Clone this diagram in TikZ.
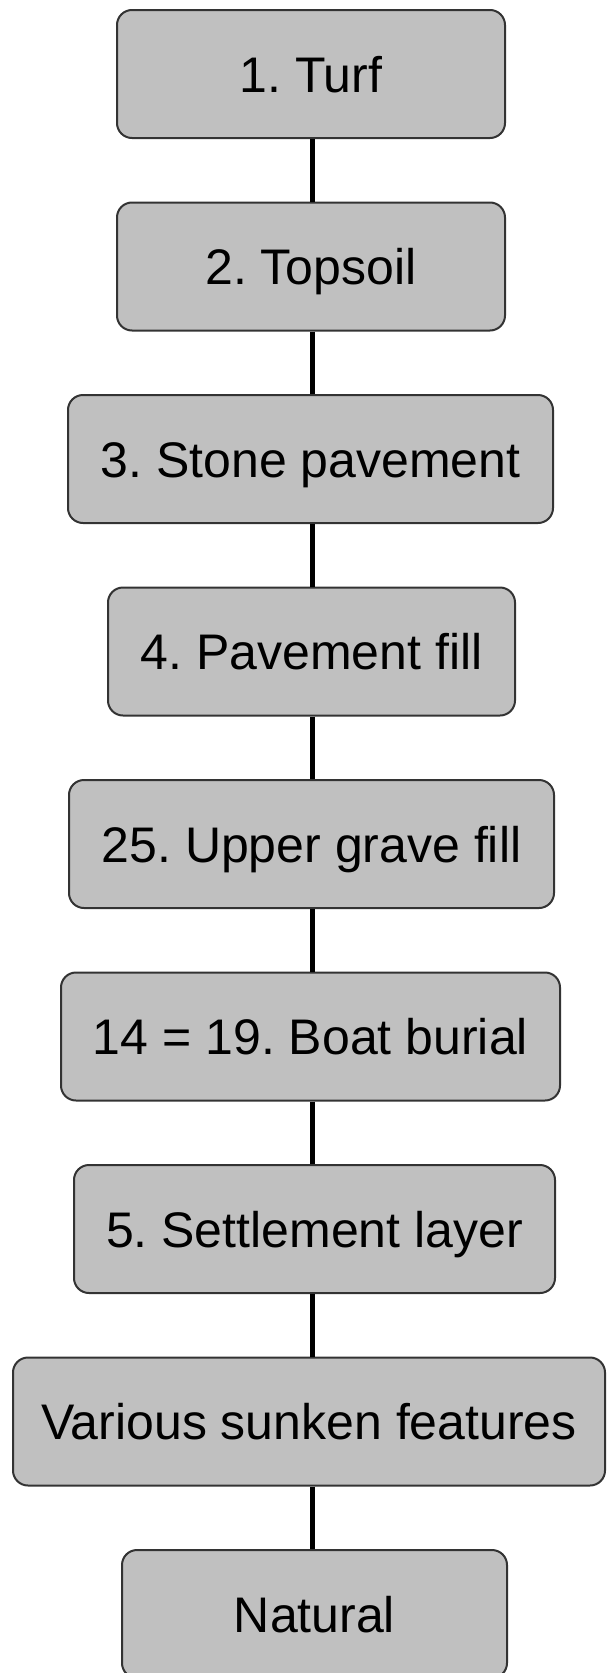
\documentclass[tikz,border=0pt]{standalone}
\usepackage{fontspec}
\setmainfont{Liberation Sans}
\definecolor{boxgray}{HTML}{C0C0C0}
\frenchspacing
\begin{document}
\begin{tikzpicture}[x=1pt,y=-1pt,
  layer/.style={draw=black!80, line width=2pt, fill=boxgray,
    rounded corners=15pt, minimum height=128pt, inner sep=0pt,
    text height=36pt, text depth=0pt,
    font=\fontsize{50}{60}\selectfont},
  link/.style={line width=5pt, black}]
\clip (0,0) rectangle (607,1673);
% vertical spine that all the links follow
\coordinate (spine) at (312,0);
% stratigraphic units, top to bottom
\node[layer, minimum width=388pt] (turf)    at (311,74)     {1. Turf};
\node[layer, minimum width=388pt] (topsoil) at (311,266.5)  {2. Topsoil};
\node[layer, minimum width=485pt] (stone)   at (310.5,459)  {3. Stone pavement};
\node[layer, minimum width=407pt] (pfill)   at (311.5,651.5){4. Pavement fill};
\node[layer, minimum width=485pt] (grave)   at (311.5,844)  {25. Upper grave fill};
\node[layer, minimum width=499pt] (boat)    at (310.5,1036.5){14 = 19. Boat burial};
\node[layer, minimum width=481pt] (settle)  at (314.5,1229) {5. Settlement layer};
\node[layer, minimum width=592pt] (sunken)  at (309,1421.5) {Various sunken features};
\node[layer, minimum width=385pt] (natural) at (314.5,1614) {Natural};
% links between successive units
\foreach \a/\b in {turf/topsoil, topsoil/stone, stone/pfill, pfill/grave,
                   grave/boat, boat/settle, settle/sunken, sunken/natural}
  \draw[link] (\a.south -| spine) -- (\b.north -| spine);
\end{tikzpicture}
\end{document}
